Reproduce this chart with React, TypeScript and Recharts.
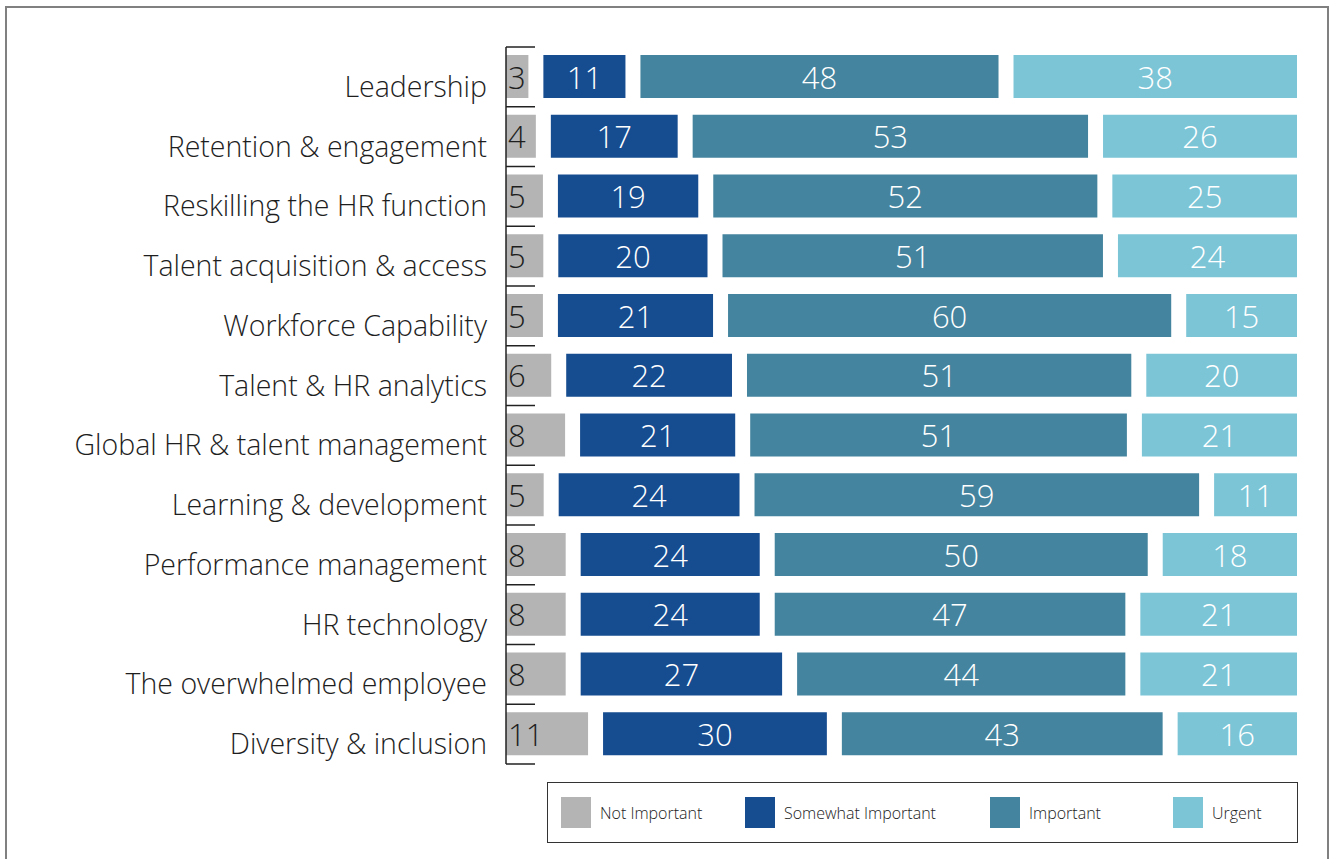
import React from "react";
import { Bar, BarChart, XAxis, YAxis } from "recharts";

const CATEGORIES = [
  "Leadership",
  "Retention & engagement",
  "Reskilling the HR function",
  "Talent acquisition & access",
  "Workforce Capability",
  "Talent & HR analytics",
  "Global HR & talent management",
  "Learning & development",
  "Performance management",
  "HR technology",
  "The overwhelmed employee",
  "Diversity & inclusion"
];
const NOT_IMPORTANT = [3, 4, 5, 5, 5, 6, 8, 5, 8, 8, 8, 11];
const SOMEWHAT_IMPORTANT = [11, 17, 19, 20, 21, 22, 21, 24, 24, 24, 27, 30];
const IMPORTANT = [48, 53, 52, 51, 60, 51, 51, 59, 50, 47, 44, 43];
const URGENT = [38, 26, 25, 24, 15, 20, 21, 11, 18, 21, 21, 16];

const SERIES = [
  { key: "notImportant", name: "Not Important", color: "#b3b4b3", text: "#1e1e1e", align: "left" },
  { key: "somewhat", name: "Somewhat Important", color: "#164c90", text: "#ffffff", align: "center" },
  { key: "important", name: "Important", color: "#45849e", text: "#ffffff", align: "center" },
  { key: "urgent", name: "Urgent", color: "#7bc5d7", text: "#ffffff", align: "center" }
];

const data = CATEGORIES.map((name, i) => ({
  name,
  notImportant: NOT_IMPORTANT[i],
  somewhat: SOMEWHAT_IMPORTANT[i],
  important: IMPORTANT[i],
  urgent: URGENT[i]
}));

const FONT = "'Open Sans', 'DejaVu Sans', sans-serif";
const GAP = 15; // white space between the stacked segments
const MARGIN = { top: 47, right: 78, bottom: 95, left: 0 };
const CHART_H = 859;
const BAND = (CHART_H - MARGIN.top - MARGIN.bottom) / CATEGORIES.length;
const LEGEND_WIDTHS = [184, 245, 183, 110];

function segment(order: number, key: string, textColor: string, align: string) {
  return (props: any) => {
    const { x, y, width, height, fill, payload } = props;
    const left = x + order * GAP;
    const tx = align === "left" ? left + 2 : left + width / 2;
    return (
      <g>
        <rect x={left} y={y} width={width} height={height} fill={fill} />
        <text
          x={tx}
          y={y + height / 2 + 12}
          textAnchor={align === "left" ? "start" : "middle"}
          fill={textColor}
          fontSize={31}
          fontWeight={300}
          fontFamily={FONT}
        >
          {payload[key]}
        </text>
      </g>
    );
  };
}

function CategoryTick(props: any) {
  const { x, y, payload, index } = props;
  const half = BAND / 2;
  return (
    <g>
      <line x1={x} x2={x + 29} y1={y - half} y2={y - half} stroke="#222" strokeWidth={1.5} />
      {index === CATEGORIES.length - 1 ? (
        <line x1={x} x2={x + 29} y1={y + half} y2={y + half} stroke="#222" strokeWidth={1.5} />
      ) : null}
      <text x={x - 19} y={y + 20} textAnchor="end" fill="#1e1e1e" fontSize={28.5} fontWeight={300} fontFamily={FONT}>
        {payload.value}
      </text>
    </g>
  );
}

export default function App() {
  return (
    <div style={{ position: "fixed", left: 0, top: 0, width: 1330, height: 859, overflow: "hidden", background: "#fff" }}>
      <div
        style={{
          position: "absolute",
          left: 5,
          top: 6,
          width: 1324,
          height: 900,
          boxSizing: "border-box",
          border: "2px solid #808080"
        }}
      />
      <div style={{ position: "absolute", left: 0, top: 0 }}>
        <BarChart
          layout="vertical"
          width={1330}
          height={CHART_H}
          data={data}
          stackOffset="expand"
          margin={MARGIN}
          barSize={43}
        >
          <XAxis type="number" hide domain={[0, 1]} />
          <YAxis
            type="category"
            dataKey="name"
            width={506}
            interval={0}
            tickSize={0}
            tickMargin={0}
            tickLine={false}
            axisLine={{ stroke: "#222", strokeWidth: 1.5 }}
            tick={<CategoryTick />}
          />
          {SERIES.map((s, i) => (
            <Bar
              key={s.key}
              dataKey={s.key}
              name={s.name}
              stackId="a"
              fill={s.color}
              isAnimationActive={false}
              shape={segment(i, s.key, s.text, s.align)}
            />
          ))}
        </BarChart>
      </div>
      <div
        style={{
          position: "absolute",
          left: 547,
          top: 782,
          width: 751,
          height: 61,
          boxSizing: "border-box",
          border: "1.5px solid #333",
          display: "flex",
          alignItems: "center",
          paddingLeft: 13,
          fontFamily: FONT,
          fontWeight: 300,
          fontSize: 16,
          color: "#222"
        }}
      >
        {SERIES.map((s, i) => (
          <div key={s.key} style={{ width: LEGEND_WIDTHS[i], display: "flex", alignItems: "center" }}>
            <span style={{ display: "inline-block", width: 30, height: 31, background: s.color, marginRight: 9 }} />
            <span>{s.name}</span>
          </div>
        ))}
      </div>
    </div>
  );
}
